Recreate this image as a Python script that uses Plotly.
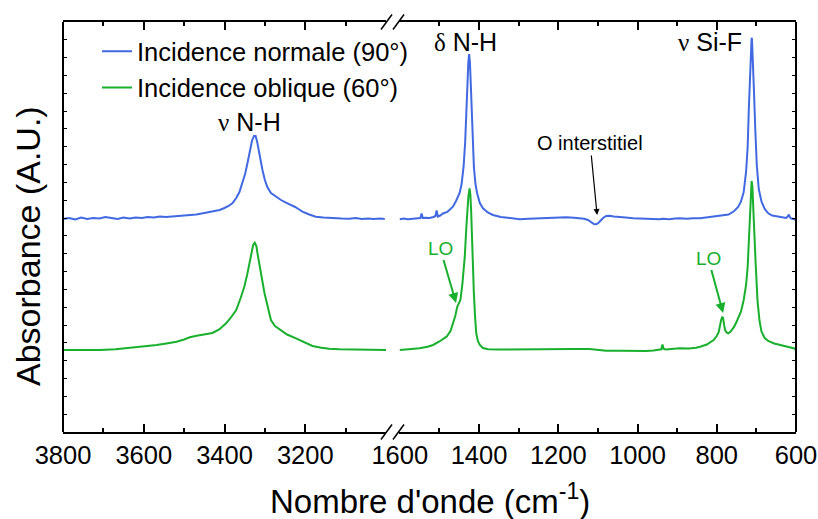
import plotly.graph_objects as go

# ---------------- data (wavenumber in cm-1, absorbance in arbitrary units) ----------------
# High-wavenumber window (N-H stretching), normal incidence
wn_hi_normal = [3800, 3785, 3770, 3755, 3740, 3725, 3710, 3695, 3680, 3665, 3650, 3635, 3620, 3605,
                3590, 3575, 3560, 3545, 3530, 3515, 3500, 3486, 3470, 3450, 3430, 3412, 3400, 3390,
                3380, 3371, 3363, 3356, 3349, 3343, 3337, 3332, 3327, 3323, 3319, 3314, 3310, 3306,
                3300, 3294, 3285, 3272, 3260, 3248, 3235, 3225, 3215, 3207, 3190, 3174, 3155, 3140,
                3125, 3110, 3091, 3075, 3060, 3045, 3030, 3015, 3003]
abs_hi_normal = [213, 214, 212.5, 214.5, 213, 214, 213.5, 215, 214, 213, 214.5, 213.5, 214.5, 214,
                 215, 214.5, 215.5, 215, 215.5, 216, 216, 216.5, 217.5, 219, 220.5, 222, 224, 226,
                 229, 234, 240, 249, 258, 269, 282, 291, 296, 296, 290, 278, 270, 262,
                 252, 245, 239, 235, 232, 229.3, 227, 225, 222.5, 220.3, 217.5, 215.3, 214.5, 214,
                 213.5, 213.5, 213.3, 214, 213, 213.5, 213, 213.5, 213]

# High-wavenumber window, oblique incidence
wn_hi_oblique = [3800, 3760, 3709, 3670, 3627, 3600, 3568, 3540, 3519, 3500, 3486, 3469, 3450, 3430,
                 3413, 3396, 3385, 3371, 3360, 3351, 3344, 3338, 3333, 3329, 3325, 3321, 3318, 3315,
                 3308, 3301, 3293, 3285, 3275, 3264, 3245, 3223, 3200, 3182, 3160, 3141, 3115, 3091,
                 3060, 3030, 3000]
abs_hi_oblique = [82, 82, 82, 82.8, 84.3, 85.5, 87, 88.8, 90.3, 92.5, 94.7, 96.2, 97.5, 99,
                  102.5, 108.7, 114, 122, 134, 145.3, 157, 168.7, 180.3, 187, 189.3, 186, 178, 172,
                  155, 139, 124, 112, 106, 102.7, 97.5, 93.7, 89, 86, 84.3, 83.3, 82.8, 82.7,
                  82.3, 82.2, 82]

# Low-wavenumber window (1600-600 cm-1), normal incidence
wn_lo_normal = [1600, 1590, 1580, 1567, 1556, 1548, 1545, 1542, 1535, 1525, 1515, 1510, 1507, 1504,
                1498, 1491, 1480, 1472, 1466, 1458, 1449, 1444, 1439, 1435, 1432, 1429, 1427, 1425,
                1423, 1421, 1419, 1416, 1413, 1409, 1405, 1398, 1390, 1378, 1365, 1345, 1323, 1297,
                1275, 1250, 1230, 1205, 1180, 1160, 1145, 1135, 1125, 1117, 1110, 1105, 1100, 1094,
                1087, 1079, 1070, 1060, 1045, 1030, 1011, 995, 978, 960, 945, 936, 920, 905,
                894, 875, 860, 842, 825, 808, 795, 782, 770, 756, 746, 739, 732, 726,
                722, 719, 717, 715, 713, 712, 711, 709, 707, 706, 703, 699, 694, 687,
                679, 670, 660, 644, 630, 625, 621, 618, 615, 612, 606, 600]
abs_lo_normal = [212.7, 213.5, 212.8, 213.3, 213.8, 214, 218.5, 214, 214.3, 214, 215, 216, 221.5, 215.5,
                 216.5, 218.5, 220, 222.5, 225.3, 231, 239, 248, 265.3, 290, 325.3, 355, 370, 378,
                 370, 350, 325.3, 292, 265.3, 248, 239, 229, 223.7, 219.5, 217, 215, 213.7, 212.7,
                 213.3, 213.8, 214.3, 214.5, 214.7, 214.2, 213.9, 213.3, 212, 210, 208, 207.7, 208.5, 211,
                 214, 216, 216.2, 215.5, 215.3, 214.5, 213.7, 213.3, 213.3, 213, 212.8, 213.3, 212.8, 213.5,
                 213.7, 213.2, 213.8, 213.7, 214.5, 215.3, 215.8, 216.3, 217.5, 221, 225, 230.3, 240, 260.3,
                 285, 323.7, 350, 372, 390, 394.3, 392, 375, 352, 340.3, 305, 267, 243, 230.3,
                 223, 218.7, 216.5, 215.3, 214.5, 214, 215.5, 217.5, 214.5, 213.5, 213, 212]

# Low-wavenumber window, oblique incidence
wn_lo_oblique = [1600, 1575, 1550, 1530, 1516, 1500, 1482, 1472, 1466, 1460, 1455, 1451, 1447, 1442,
                 1436, 1432, 1430, 1427, 1424, 1422, 1420, 1418, 1416, 1413, 1410, 1407, 1403, 1398,
                 1390, 1377, 1350, 1315, 1260, 1205, 1160, 1121, 1100, 1079, 1040, 1000, 978, 960,
                 945, 940, 937, 934, 928, 910, 894, 870, 852, 842, 825, 808, 800, 795,
                 792, 789, 786, 784, 781, 779, 775, 771, 765, 756, 748, 739, 732, 726,
                 722, 719, 716, 714, 712, 710, 708, 706, 702, 697, 692, 687, 679, 670,
                 655, 635, 620, 610, 604, 600]
abs_lo_oblique = [82, 82.5, 83.7, 85.2, 87, 90.5, 95.3, 101, 108.7, 116, 125.3, 129, 132, 148,
                  175.3, 205, 218.7, 235, 243.7, 238, 222, 195, 168, 138.7, 115, 98.7, 91, 87,
                  84, 82.7, 82.5, 82.7, 82.6, 82.7, 82.9, 83, 82.2, 81.3, 81.2, 80.8, 81, 81.6,
                  82.4, 82.7, 87.5, 83, 82.5, 83.3, 83.7, 83.6, 84.2, 85.3, 87.5, 92, 96, 100,
                  107, 112, 115.3, 114, 106, 102, 99.5, 98.7, 100.5, 105.3, 112, 120.3, 132, 147,
                  165, 193.7, 222, 240, 251, 245, 232, 207, 170, 130.3, 111, 100.3, 94, 91,
                  88.5, 86.3, 84.5, 83.5, 83.5, 82]

series_names = ["Incidence normale (90°)", "Incidence oblique (60°)"]
left_ticks = [3800, 3600, 3400, 3200]
left_minor = [3700, 3500, 3300, 3100]
right_ticks = [1600, 1400, 1200, 1000, 800, 600]
right_minor = [1500, 1300, 1100, 900, 700]

BLUE = "#4169E1"
GREEN = "#18B02C"
FONT = "Liberation Sans, Arial, sans-serif"
GREEK = "Liberation Serif, Times New Roman, serif"

fig = go.Figure()
fig.add_trace(go.Scatter(x=wn_hi_normal, y=abs_hi_normal, mode="lines", name=series_names[0],
                         line=dict(color=BLUE, width=2), xaxis="x", yaxis="y", legendgroup="n"))
fig.add_trace(go.Scatter(x=wn_hi_oblique, y=abs_hi_oblique, mode="lines", name=series_names[1],
                         line=dict(color=GREEN, width=2), xaxis="x", yaxis="y", legendgroup="o"))
fig.add_trace(go.Scatter(x=wn_lo_normal, y=abs_lo_normal, mode="lines", name=series_names[0],
                         line=dict(color=BLUE, width=2), xaxis="x2", yaxis="y", legendgroup="n",
                         showlegend=False))
fig.add_trace(go.Scatter(x=wn_lo_oblique, y=abs_lo_oblique, mode="lines", name=series_names[1],
                         line=dict(color=GREEN, width=2), xaxis="x2", yaxis="y", legendgroup="o",
                         showlegend=False))

axis_common = dict(showline=True, linecolor="black", linewidth=1.5, mirror="ticks",
                   ticks="inside", ticklen=8, tickwidth=1.5, tickcolor="black",
                   tickfont=dict(family=FONT, size=25.5, color="black"),
                   showgrid=False, zeroline=False, tickmode="array", automargin=False)

PLOT_W = 733
dom_left_end = 323 / PLOT_W
dom_right_start = 336 / PLOT_W

fig.update_layout(
    width=818, height=519,
    margin=dict(l=63, r=22, t=22, b=87, autoexpand=False),
    paper_bgcolor="white", plot_bgcolor="white",
    font=dict(family=FONT, color="black"),
    xaxis=dict(domain=[0, dom_left_end], range=[3800, 3000], tickvals=left_ticks,
               minor=dict(tickvals=left_minor, ticks="inside", ticklen=4, tickwidth=1.5,
                          tickcolor="black"),
               anchor="y", **axis_common),
    xaxis2=dict(domain=[dom_right_start, 1], range=[1602, 600], tickvals=right_ticks,
                minor=dict(tickvals=right_minor, ticks="inside", ticklen=4, tickwidth=1.5,
                           tickcolor="black"),
                anchor="y", **axis_common),
    yaxis=dict(range=[0, 410], anchor="free", position=0, showline=True, linecolor="black",
               linewidth=1.5, ticks="inside", ticklen=3, tickcolor="black", tick0=0,
               dtick=410 / 23, showticklabels=False, showgrid=False, zeroline=False,
               automargin=False),
    yaxis2=dict(range=[0, 410], overlaying="y", side="right", anchor="free", position=1,
                showline=True, linecolor="black", linewidth=1.5, ticks="inside", ticklen=3,
                tickcolor="black", tick0=0, dtick=410 / 23, showticklabels=False,
                showgrid=False, zeroline=False, automargin=False),
    legend=dict(x=(97 - 63) / PLOT_W, y=0.985, xanchor="left", yanchor="top",
                bgcolor="rgba(0,0,0,0)", font=dict(family=FONT, size=25.5, color="black"),
                tracegroupgap=0, itemwidth=30),
    showlegend=True,
)

# invisible trace to activate yaxis2 (right spine with ticks)
fig.add_trace(go.Scatter(x=[None], y=[None], xaxis="x2", yaxis="y2", showlegend=False,
                         hoverinfo="skip"))


def px_x(p):
    return (p - 63) / PLOT_W


def px_y(p):
    return (432 - p) / 410


# axis titles
fig.add_annotation(text="Nombre d'onde (cm<sup>-1</sup>)", xref="paper", yref="paper",
                   x=px_x(430), y=px_y(499), xanchor="center", yanchor="middle",
                   showarrow=False, font=dict(family=FONT, size=33, color="black"))
fig.add_annotation(text="Absorbance (A.U.)", xref="paper", yref="paper", textangle=-90,
                   x=px_x(28), y=px_y(246), xanchor="center", yanchor="middle",
                   showarrow=False, font=dict(family=FONT, size=34, color="black"))

# peak labels
fig.add_annotation(text=f"<span style='font-family:{GREEK}'>ν</span> N-H", xref="x", yref="y",
                   x=3337, y=310, showarrow=False, font=dict(family=FONT, size=25, color="black"))
fig.add_annotation(text=f"<span style='font-family:{GREEK}'>δ</span> N-H", xref="x2", yref="y",
                   x=1433, y=390, showarrow=False, font=dict(family=FONT, size=25, color="black"))
fig.add_annotation(text=f"<span style='font-family:{GREEK}'>ν</span> Si-F", xref="x2", yref="y",
                   x=817, y=390, showarrow=False, font=dict(family=FONT, size=25, color="black"))
fig.add_annotation(text="O interstitiel", xref="x2", yref="y", x=1102, y=217,
                   ax=-7, ay=-72, showarrow=True, arrowhead=2, arrowsize=1, arrowwidth=1.2,
                   arrowcolor="black", font=dict(family=FONT, size=20, color="black"))
fig.add_annotation(text="LO", xref="x2", yref="y", x=1458, y=129, ax=-16, ay=-55,
                   showarrow=True, arrowhead=2, arrowsize=1, arrowwidth=2, arrowcolor=GREEN,
                   font=dict(family=FONT, size=19, color=GREEN))
fig.add_annotation(text="LO", xref="x2", yref="y", x=784, y=119, ax=-15, ay=-55,
                   showarrow=True, arrowhead=2, arrowsize=1, arrowwidth=2, arrowcolor=GREEN,
                   font=dict(family=FONT, size=19, color=GREEN))

# axis-break marks (//) on top and bottom frame lines
for (ya, yb) in [(439.5, 424.5), (29.5, 14.5)]:
    for (xa, xb) in [(381, 392), (393, 404)]:
        fig.add_shape(type="line", xref="paper", yref="paper", x0=px_x(xa), y0=px_y(ya),
                      x1=px_x(xb), y1=px_y(yb), line=dict(color="black", width=1.5))

fig.write_html("out.html", config={"displayModeBar": False},
               post_script="document.body.style.margin='0';")
